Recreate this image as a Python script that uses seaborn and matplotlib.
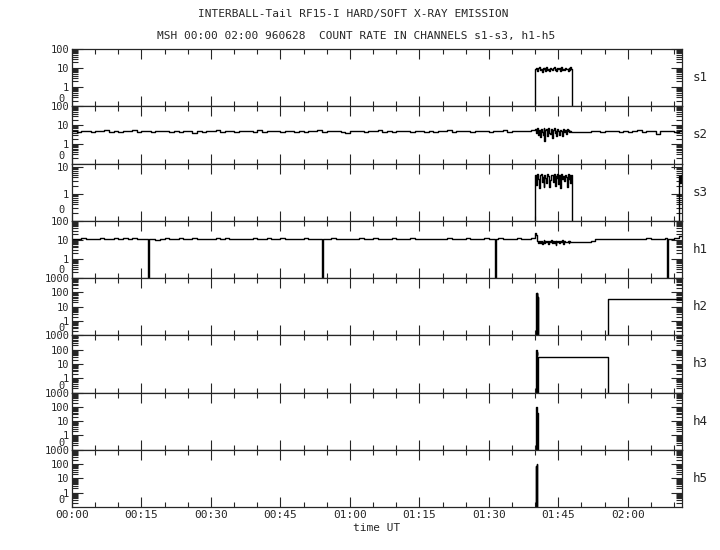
import numpy as np
import pandas as pd
import seaborn as sns
import matplotlib.pyplot as plt
import matplotlib.transforms as mtransforms
from matplotlib.ticker import FixedLocator, LogLocator, NullFormatter, MultipleLocator

# sample times (minutes after 00:00 UT)
t_pre = np.arange(0, 100, 1.0)
t_burst = np.arange(100, 108, 0.2)
t_gap = [108.0]
t_post = np.arange(112, 133, 1.0)

s1_burst = [8.5, 10.2, 7.1, 9.6, 11.0, 8.0, 9.2, 6.5, 10.5, 8.8,
            9.9, 7.4, 10.8, 8.3, 9.5, 6.8, 10.1, 8.9, 7.6, 9.8,
            11.2, 8.1, 9.3, 7.0, 10.4, 8.6, 9.7, 6.9, 10.9, 8.4,
            9.1, 7.8, 10.6, 8.7, 9.4, 7.2, 10.0, 8.2, 11.1, 9.0]

s2_pre = [5.0, 4.6, 5.3, 4.8, 4.4, 5.1, 4.9, 5.4, 4.7, 5.0,
          4.5, 5.2, 4.8, 5.5, 4.6, 4.9, 5.1, 4.3, 5.0, 4.8,
          5.3, 4.7, 5.0, 4.6, 5.2, 4.9, 3.8, 5.1, 4.7, 5.0,
          4.8, 5.4, 4.6, 5.0, 4.9, 4.4, 5.2, 4.8, 5.1, 4.7,
          5.5, 4.6, 5.0, 4.8, 5.3, 4.5, 4.9, 5.1, 4.7, 5.0,
          4.6, 5.2, 4.8, 5.6, 4.4, 5.0, 4.9, 5.3, 4.7, 3.9,
          5.0, 4.8, 5.2, 4.6, 5.1, 4.9, 5.4, 4.7, 5.0, 4.5,
          5.3, 4.8, 5.0, 4.6, 5.2, 4.9, 4.7, 5.1, 4.4, 5.0,
          4.8, 5.5, 4.6, 5.0, 4.9, 5.2, 4.7, 5.3, 4.8, 5.0,
          4.6, 5.1, 4.9, 5.4, 4.7, 5.0, 4.8, 5.2, 4.9, 5.6]
s2_burst = [6.5, 4.0, 7.0, 3.2, 5.8, 2.5, 6.8, 4.5, 3.0, 7.2,
            1.6, 5.5, 6.2, 2.8, 7.0, 4.2, 3.5, 6.6, 2.2, 5.9,
            6.9, 3.8, 5.0, 2.6, 6.4, 4.8, 3.3, 6.0, 5.2, 2.9,
            6.3, 4.6, 5.5, 3.6, 6.1, 4.9, 5.4, 4.4, 5.0, 4.7]
s2_gap = [4.4]
s2_post = [4.8, 5.1, 4.6, 5.3, 4.9, 5.0, 4.4, 5.2, 4.7, 5.0, 5.5,
           4.6, 4.9, 5.1, 3.6, 5.0, 4.8, 5.3, 4.7, 5.0, 5.8]

s3_burst = [4.8, 2.1, 5.2, 3.5, 1.6, 4.9, 5.5, 2.8, 4.2, 1.8,
            5.1, 3.9, 2.4, 5.4, 4.5, 1.7, 3.2, 5.0, 4.7, 2.6,
            5.3, 1.9, 4.4, 3.7, 5.2, 2.3, 4.9, 1.6, 5.5, 3.4,
            4.6, 2.9, 5.1, 4.0, 1.8, 5.3, 3.6, 4.8, 2.5, 5.0]
s3_end_t = [131.0, 131.2, 131.4, 131.6]
s3_end = [4.5, 2.5, 5.0, 3.0]

h1_pre = [11.0, 10.5, 12.0, 11.2, 10.8, 11.5, 12.2, 10.9, 11.3, 11.8,
          10.6, 11.9, 11.1, 12.4, 10.7, 11.4, 11.0, 11.7, 10.4, 11.6,
          12.1, 10.9, 11.3, 11.8, 10.6, 11.2, 12.0, 10.8, 11.5, 11.1,
          10.5, 11.9, 11.3, 12.3, 10.7, 11.0, 11.6, 10.9, 11.4, 12.0,
          11.2, 10.6, 11.8, 11.1, 10.8, 12.2, 11.0, 11.5, 10.7, 11.3,
          11.9, 10.5, 11.2, 11.7, 10.9, 11.4, 12.1, 10.8, 11.0, 11.6,
          10.6, 11.3, 11.9, 11.1, 10.7, 12.0, 11.4, 10.9, 11.2, 11.8,
          10.5, 11.6, 11.0, 12.3, 10.8, 11.3, 11.7, 10.6, 11.5, 11.1,
          10.9, 12.0, 11.2, 10.7, 11.4, 11.8, 10.8, 11.0, 11.6, 12.1,
          11.3, 10.6, 11.9, 11.1, 10.9, 11.5, 12.2, 11.0, 11.4, 11.8]
h1_burst = [24.0, 18.0, 8.5, 6.8, 9.0, 7.2, 8.8, 5.9, 8.1, 9.3,
            6.5, 8.7, 7.4, 9.1, 6.2, 8.4, 7.8, 9.5, 6.9, 8.2,
            7.1, 9.2, 5.6, 8.6, 7.5, 9.0, 6.7, 8.3, 7.9, 9.4,
            6.4, 8.9, 7.3, 8.0, 7.7, 8.5, 7.0, 8.8, 7.6, 8.1]
h1_gap = [8.0]
h1_post = [8.4, 10.6, 11.2, 10.8, 11.5, 10.9, 11.3, 11.0, 11.7, 10.7, 11.4,
           11.1, 11.8, 10.9, 11.6, 11.2, 12.0, 11.5, 12.3, 16.0, 15.0]
h1_drop_t = [16.4, 54.0, 91.4, 128.5]

h2_t = [0.0, 100.1, 100.2, 100.3, 100.4, 100.5, 100.6, 100.7, 115.8, 132.0]
h2_v = [0.0, 70.0, 90.0, 30.0, 85.0, 0.0, 45.0, 0.0, 35.0, 35.0]
h3_t = [0.0, 100.1, 100.2, 100.3, 100.4, 100.5, 100.6, 100.7, 115.8, 132.0]
h3_v = [0.0, 80.0, 100.0, 40.0, 70.0, 0.0, 30.0, 30.0, 0.0, 0.0]
h4_t = [0.0, 100.1, 100.2, 100.3, 100.4, 100.5, 100.6, 100.7, 132.0]
h4_v = [0.0, 60.0, 100.0, 90.0, 0.0, 38.0, 0.0, 0.0, 0.0]
h5_t = [0.0, 100.1, 100.2, 100.3, 100.4, 100.5, 132.0]
h5_v = [0.0, 70.0, 0.0, 100.0, 0.0, 0.0, 0.0]

channels = ['s1', 's2', 's3', 'h1', 'h2', 'h3', 'h4', 'h5']
time_labels = ['00:00', '00:15', '00:30', '00:45', '01:00', '01:15', '01:30', '01:45', '02:00']


def frame(t, v):
    return pd.DataFrame({'t': t, 'v': v}).sort_values('t', kind='stable')


zeros_pre = [0.0] * len(t_pre)
zeros_post = [0.0] * len(t_post)
t_all = np.concatenate([t_pre, t_burst, t_gap, t_post])

h1_t = list(t_all)
h1_v = h1_pre + h1_burst + h1_gap + h1_post
for td in h1_drop_t:
    h1_t += [td, td + 0.15]
    h1_v += [0.0, 11.0]

data = {
    's1': frame(t_all, zeros_pre + s1_burst + [0.0] + zeros_post),
    's2': frame(t_all, s2_pre + s2_burst + s2_gap + s2_post),
    's3': frame(np.concatenate([t_all[:-2], s3_end_t]),
                zeros_pre + s3_burst + [0.0] + zeros_post[:-2] + s3_end),
    'h1': frame(h1_t, h1_v),
    'h2': frame(h2_t, h2_v),
    'h3': frame(h3_t, h3_v),
    'h4': frame(h4_t, h4_v),
    'h5': frame(h5_t, h5_v),
}

sns.set_style('ticks')
plt.rcParams['font.family'] = ['DejaVu Sans Mono']
plt.rcParams['axes.linewidth'] = 0.9

fig, axes = plt.subplots(8, 1, figsize=(7.2, 5.5), dpi=100, sharex=True)
fig.subplots_adjust(left=72 / 720, right=682 / 720, top=1 - 49 / 550,
                    bottom=1 - 507 / 550, hspace=0)

for ax, ch in zip(axes, channels):
    sns.lineplot(data=data[ch], x='t', y='v', ax=ax, color='black', lw=1.0,
                 drawstyle='steps-post', estimator=None, sort=False)
    ax.set_yscale('log', nonpositive='clip')
    if ch.startswith('h') and ch != 'h1':
        top, majors = 1000, [1, 10, 100, 1000]
    elif ch == 's3':
        top, majors = 13, [1, 10]
    else:
        top, majors = 100, [1, 10, 100]
    ax.set_ylim(0.1, top)
    ax.yaxis.set_major_locator(FixedLocator(majors))
    ax.set_yticklabels([str(m) for m in majors])
    ax.yaxis.set_minor_locator(LogLocator(base=10, subs=np.arange(2, 10), numticks=20))
    ax.yaxis.set_minor_formatter(NullFormatter())
    trans = mtransforms.blended_transform_factory(ax.transAxes, ax.transData)
    zero_y = 0.3 if top == 1000 else 0.25
    ax.text(-0.012, zero_y, '0', transform=trans, ha='right', va='center', fontsize=7.5)
    ax.text(1.018, 0.5, ch, transform=ax.transAxes, ha='left', va='center', fontsize=9)
    ax.set_ylabel('')
    ax.set_xlabel('')
    ax.tick_params(which='both', direction='in', top=True, right=True,
                   width=0.8, labelsize=7.5, pad=2)
    ax.tick_params(which='major', axis='y', length=8)
    ax.tick_params(which='minor', axis='y', length=4)
    ax.tick_params(which='major', axis='x', length=7)
    ax.tick_params(which='minor', axis='x', length=3.5)

axes[-1].set_xlim(0, 131.7)
axes[-1].set_xticks(np.arange(0, 121, 15))
axes[-1].set_xticklabels(time_labels)
axes[-1].xaxis.set_minor_locator(MultipleLocator(5))
axes[-1].tick_params(axis='x', labelsize=8)
axes[-1].set_xlabel('time UT', fontsize=8, labelpad=2)

fig.text(0.49, 1 - 14 / 550, 'INTERBALL-Tail RF15-I HARD/SOFT X-RAY EMISSION',
         ha='center', va='center', fontsize=8)
fig.text(0.495, 1 - 36 / 550, 'MSH 00:00 02:00 960628  COUNT RATE IN CHANNELS s1-s3, h1-h5',
         ha='center', va='center', fontsize=8)

fig.savefig('out.png', dpi=100, facecolor='white')
